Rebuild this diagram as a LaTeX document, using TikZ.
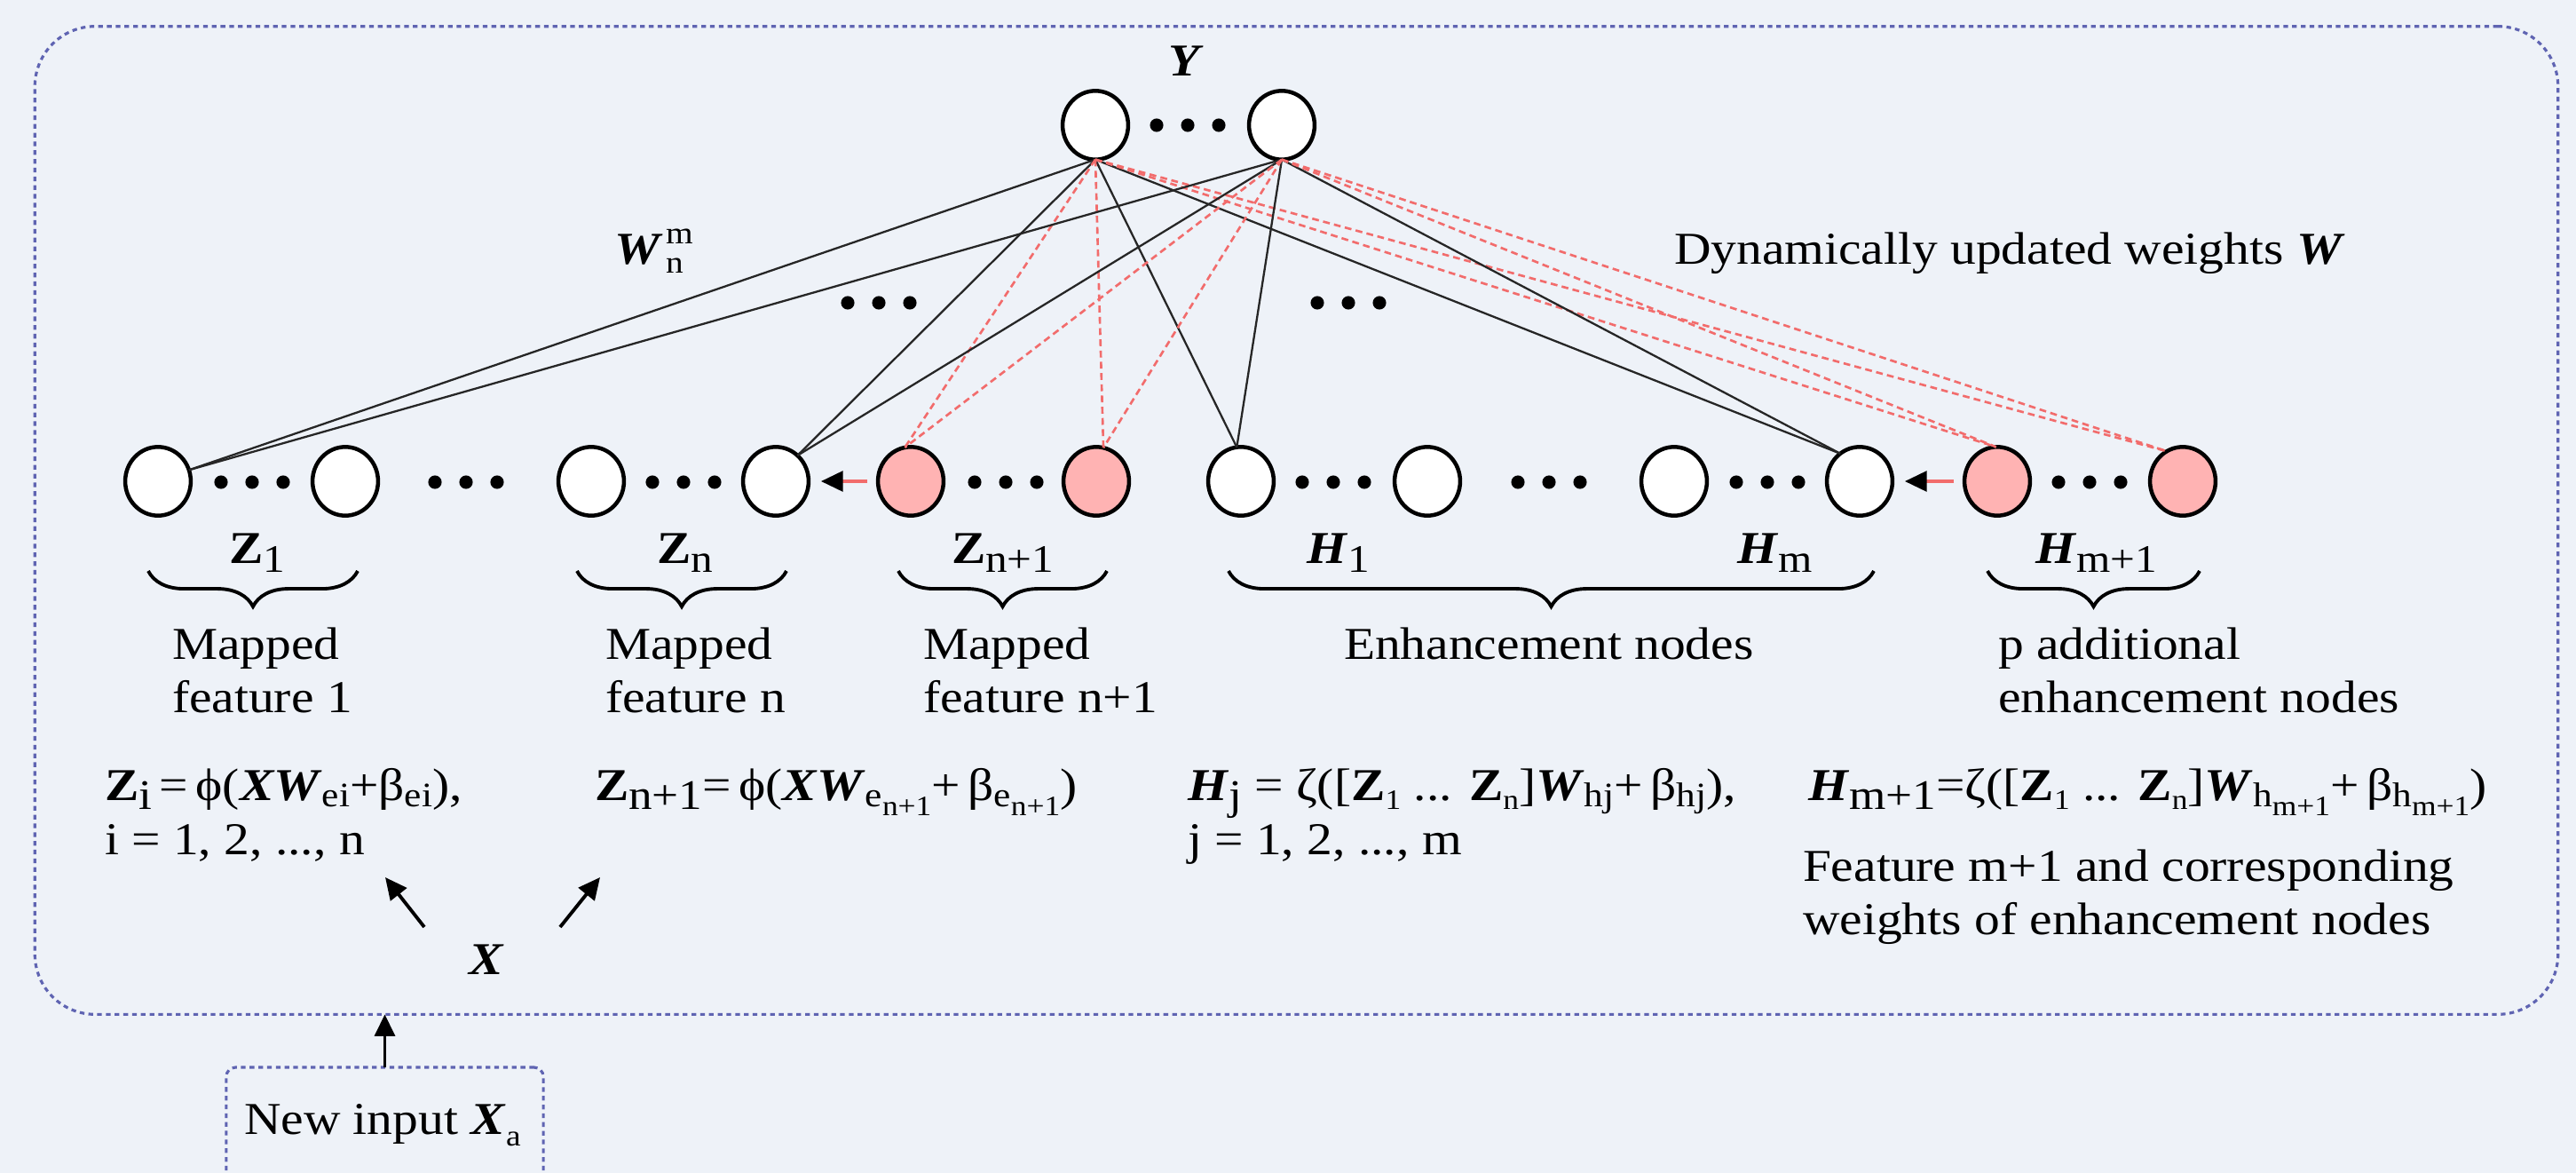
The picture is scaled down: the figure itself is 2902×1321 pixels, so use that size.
\documentclass[tikz,border=0pt]{standalone}
\usepackage{fontspec}
\setmainfont{Liberation Serif}[FakeStretch=1.12]
\usetikzlibrary{arrows.meta,shapes.geometric,decorations.pathreplacing,calc}
\definecolor{bgc}{HTML}{EEF2F8}
\definecolor{framec}{HTML}{5F64B2}
\definecolor{pinkc}{HTML}{FFB3B3}
\definecolor{redl}{HTML}{F26C6C}
\newcommand\bZ{\textbf{Z}}
\newcommand\bit[1]{\textbf{\textit{#1}}}
\newcommand\lsb[1]{\raisebox{-3pt}{\fontsize{12.5pt}{12.5pt}\selectfont #1}}
\newcommand\bsb[1]{\raisebox{-3pt}{\fontsize{13.5pt}{13.5pt}\selectfont #1}}
\newcommand\ssb[1]{\raisebox{-2pt}{\fontsize{11pt}{11pt}\selectfont #1}}
\newcommand\tsb[1]{\raisebox{-3pt}{\fontsize{9pt}{9pt}\selectfont #1}}
\tikzset{tridots/.pic={\fill (-35,0) circle[radius=2.15pt] (0,0) circle[radius=2.15pt] (35,0) circle[radius=2.15pt];}}
\begin{document}
\begin{tikzpicture}[x=0.01cm,y=-0.01cm,
  every node/.style={inner sep=0pt, outer sep=0pt, font=\fontsize{14.6pt}{17pt}\selectfont},
  neuron/.style={ellipse, draw=black, line width=1.28pt, fill=white, minimum width=21pt, minimum height=22pt},
  newnode/.style={neuron, fill=pinkc},
  txt/.style={anchor=base west},
  wline/.style={draw=black!85, line width=0.65pt},
  rline/.style={draw=redl, line width=0.75pt, dash pattern=on 2.2pt off 1.4pt},
  grpbrace/.style={decorate, decoration={brace, amplitude=11.4pt}, line width=1.1pt},
  redarrow/.style={draw=redl, line width=0.9pt, -{Triangle[length=7pt,width=6.5pt,black]}, shorten >=4pt, shorten <=3.4pt},
  blkarrow/.style={line width=1.1pt, -{Triangle[length=7pt,width=6.5pt]}},
  dotframe/.style={draw=framec, line width=0.9pt, dash pattern=on 1.5pt off 1.3pt}
]
\fill[bgc] (0,0) rectangle (2902,1321);
\useasboundingbox (0,0) rectangle (2902,1321);
\clip (0,0) rectangle (2902,1321);

% frames
\node[dotframe, rounded corners=19.3pt, minimum width=808.3pt, minimum height=316.4pt] (frame) at (1460.5,586) {};
\node[dotframe, rounded corners=3pt, minimum width=101.6pt, minimum height=71pt, anchor=north] (newin) at (433.5,1202) {};
\node[txt] (newtxt) at (275,1277) {New input \bit{X}\raisebox{-3.7pt}{\fontsize{9.5pt}{9.5pt}\selectfont a}};
\draw[blkarrow] (newin.north) -- (newin.north |- frame.south);

% output nodes
\node[neuron] (Ya) at (1234,141) {};
\node[neuron] (Yb) at (1444,141) {};
\pic at (1338,141) {tridots};
\node[anchor=base] (ylab) at (1336,85) {\bit{Y}};

% hidden row
\node[neuron] (Z1a) at (178,542) {};
\node[neuron] (Z1b) at (389,542) {};
\node[neuron] (Zna) at (666,542) {};
\node[neuron] (Znb) at (874,542) {};
\node[newnode] (Zn1a) at (1026,542) {};
\node[newnode] (Zn1b) at (1235,542) {};
\node[neuron] (H1a) at (1398,542) {};
\node[neuron] (H1b) at (1608,542) {};
\node[neuron] (Hma) at (1886,542) {};
\node[neuron] (Hmb) at (2095,542) {};
\node[newnode] (Hm1a) at (2250,542) {};
\node[newnode] (Hm1b) at (2459,542) {};

\foreach \p in {284,525,770,1133,1502,1745,1991,2354} {\pic at (\p,543) {tridots};}
\pic at (990,341) {tridots};
\pic at (1519,341) {tridots};

% weights
\foreach \y in {Ya,Yb} {
  \draw[wline] (\y.south) -- (Z1a.20);
  \draw[wline] (\y.south) -- (Znb.50);
  \draw[wline] (\y.south) -- (H1a.97);
  \draw[wline] (\y.south) -- (Hmb.125);
  \draw[rline] (\y.south) -- (Zn1a.100);
  \draw[rline] (\y.south) -- (Zn1b.78);
  \draw[rline] (\y.south) -- (Hm1a.92);
  \draw[rline] (\y.south) -- (Hm1b.118);
}
\draw[redarrow] (Zn1a.west) -- (Znb.east);
\draw[redarrow] (Hm1a.west) -- (Hmb.east);

\node[txt] (wnm) at (692,297) {\bit{W}\kern1pt\rlap{\raisebox{6.3pt}{\fontsize{10pt}{10pt}\selectfont m}}\raisebox{-3pt}{\fontsize{10pt}{10pt}\selectfont n}};
\node[txt] (dyn) at (1886,297) {Dynamically updated weights \bit{W}};

% group labels
\node[txt] (lZ1) at (258,634) {\bZ\lsb{1}};
\node[txt] (lZn) at (740,634) {\bZ\lsb{n}};
\node[txt] (lZn1) at (1072,634) {\bZ\lsb{n+1}};
\node[txt] (lH1) at (1472,634) {\bit{H}\lsb{1}};
\node[txt] (lHm) at (1957,634) {\bit{H}\lsb{m}};
\node[txt] (lHm1) at (2293,634) {\bit{H}\lsb{m+1}};

% braces
\draw[grpbrace] (403,643) -- (167,643);
\draw[grpbrace] (886,643) -- (650,643);
\draw[grpbrace] (1247,643) -- (1012,643);
\draw[grpbrace] (2111,643) -- (1384,643);
\draw[grpbrace] (2478,643) -- (2239,643);

% descriptions
\node[txt] (d1a) at (194,742) {Mapped};
\node[txt] (d1b) at (194,802) {feature 1};
\node[txt] (d2a) at (682,742) {Mapped};
\node[txt] (d2b) at (682,802) {feature n};
\node[txt] (d3a) at (1040,742) {Mapped};
\node[txt] (d3b) at (1040,802) {feature n+1};
\node[txt] (d4a) at (1514,742) {Enhancement nodes};
\node[txt] (d5a) at (2251,742) {p additional};
\node[txt] (d5b) at (2251,802) {enhancement nodes};

% formulas
\node[txt] (f1) at (118,901) {\bZ\bsb{i}\,=\,ϕ(\bit{XW}\ssb{ei}+β\ssb{ei}),};
\node[txt] (f1b) at (118,962) {i = 1, 2, ..., n};
\node[txt] (f2) at (670,901) {\bZ\bsb{n+1}=\,ϕ(\bit{XW}\ssb{e\tsb{n+1}}+\,β\ssb{e\tsb{n+1}})};
\node[txt] (f3) at (1338,901) {\bit{H}\bsb{j} = ζ([\bZ\tsb{1} ... \bZ\tsb{n}]\bit{W}\ssb{hj}+\,β\ssb{hj}),};
\node[txt] (f3b) at (1338,962) {j = 1, 2, ..., m};
\node[txt] (f4) at (2037,901) {\bit{H}\bsb{m+1}=ζ([\bZ\tsb{1} ... \bZ\tsb{n}]\bit{W}\ssb{h\tsb{m+1}}+\,β\ssb{h\tsb{m+1}})};
\node[txt] (f4b) at (2031,992) {Feature m+1 and corresponding};
\node[txt] (f4c) at (2031,1052) {weights of enhancement nodes};

% input X
\node[anchor=base] (X) at (548,1097) {\bit{X}};
\coordinate (xa1s) at (478,1044);
\coordinate (xa1e) at (434,988);
\coordinate (xa2s) at (631,1044);
\coordinate (xa2e) at (676,988);
\draw[blkarrow] (xa1s) -- (xa1e);
\draw[blkarrow] (xa2s) -- (xa2e);
\end{tikzpicture}
\end{document}
